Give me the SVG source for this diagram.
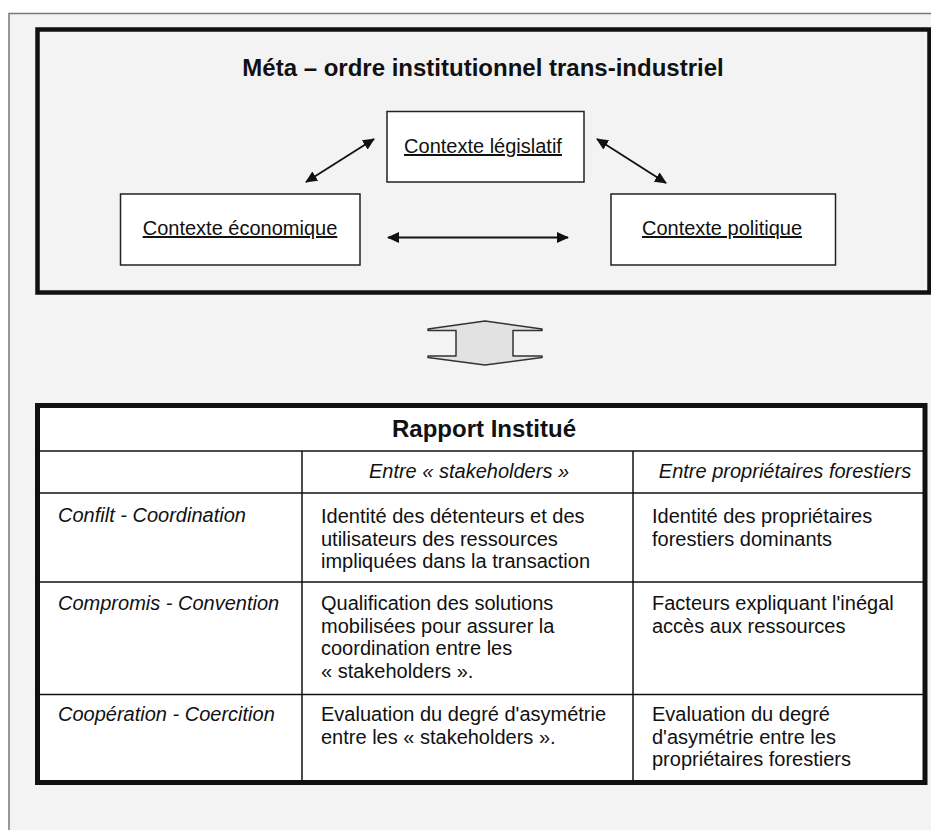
<svg xmlns="http://www.w3.org/2000/svg" width="931" height="830" viewBox="0 0 931 830">
<style>
text { font-family: "Liberation Sans", Arial, sans-serif; fill: #111; }
.t { font-size: 20px; }
.i { font-size: 20px; font-style: italic; }
.b { font-weight: bold; font-size: 24px; }
.u { text-decoration: underline; }
.box { fill: #fff; stroke: #222; stroke-width: 1.5; }
.grid { stroke: #111; stroke-width: 1.5; fill: none; }
.conn { stroke: #111; stroke-width: 1.8; fill: none; marker-start: url(#ah); marker-end: url(#ah); }
</style>
<defs>
<marker id="ah" viewBox="0 0 12 11" refX="11" refY="5.5" markerWidth="12" markerHeight="11" markerUnits="userSpaceOnUse" orient="auto-start-reverse">
<path d="M0,0 L12,5.5 L0,11 z" fill="#111"/>
</marker>
</defs>
<rect x="0" y="0" width="931" height="830" fill="#fff"/>
<rect id="frame" x="9" y="13.5" width="940" height="840" fill="#f3f3f3" stroke="#777" stroke-width="1.5"/>

<g id="meta">
<rect x="37.5" y="29.5" width="892" height="263" fill="#f3f3f3" stroke="#111" stroke-width="4.5"/>
<text class="b" x="483" y="76" text-anchor="middle">Méta – ordre institutionnel trans-industriel</text>
</g>
<g id="legislatif">
<rect class="box" x="387" y="111.5" width="197" height="70.5"/>
<text class="t u" x="483" y="153" text-anchor="middle">Contexte législatif</text>
</g>
<g id="economique">
<rect class="box" x="120.5" y="194" width="239.5" height="71"/>
<text class="t u" x="240" y="235" text-anchor="middle">Contexte économique</text>
</g>
<g id="politique">
<rect class="box" x="611" y="194" width="224.5" height="71"/>
<text class="t u" x="722" y="235" text-anchor="middle">Contexte politique</text>
</g>

<g id="connectors">
<line class="conn" x1="306" y1="182" x2="374" y2="139"/>
<line class="conn" x1="597" y1="139" x2="666" y2="183"/>
<line class="conn" x1="388" y1="237.5" x2="568" y2="237.5"/>
<polygon points="428,329 485,321 542,329 542,330.5 513,330.5 513,356 542,356 542,357.5 485,365 428,357.5 428,356 456,356 456,330.5 428,330.5" fill="#e2e2e2" stroke="#333" stroke-width="1.5" stroke-linejoin="round"/>
</g>

<g id="table">
<rect x="37.5" y="405.5" width="887.5" height="377" fill="#fff" stroke="#111" stroke-width="5"/>
<line class="grid" x1="37.5" y1="451" x2="925" y2="451"/>
<line class="grid" x1="37.5" y1="493" x2="925" y2="493"/>
<line class="grid" x1="37.5" y1="582" x2="925" y2="582"/>
<line class="grid" x1="37.5" y1="694.5" x2="925" y2="694.5"/>
<line class="grid" x1="302" y1="451" x2="302" y2="782"/>
<line class="grid" x1="633" y1="451" x2="633" y2="782"/>
<text class="b" x="484" y="437" text-anchor="middle">Rapport Institué</text>
<text class="i" x="469" y="478" text-anchor="middle">Entre « stakeholders »</text>
<text class="i" x="785" y="478" text-anchor="middle">Entre propriétaires forestiers</text>

<text class="i" x="58" y="522">Confilt - Coordination</text>
<text class="t" x="321" y="523">Identité des détenteurs et des</text>
<text class="t" x="321" y="545.5">utilisateurs des ressources</text>
<text class="t" x="321" y="568">impliquées dans la transaction</text>
<text class="t" x="652" y="523">Identité des propriétaires</text>
<text class="t" x="652" y="545.5">forestiers dominants</text>

<text class="i" x="58" y="610">Compromis - Convention</text>
<text class="t" x="321" y="610">Qualification des solutions</text>
<text class="t" x="321" y="632.5">mobilisées pour assurer la</text>
<text class="t" x="321" y="655">coordination entre les</text>
<text class="t" x="321" y="677.5">« stakeholders ».</text>
<text class="t" x="652" y="610">Facteurs expliquant l'inégal</text>
<text class="t" x="652" y="632.5">accès aux ressources</text>

<text class="i" x="58" y="721">Coopération - Coercition</text>
<text class="t" x="321" y="721">Evaluation du degré d'asymétrie</text>
<text class="t" x="321" y="743.5">entre les « stakeholders ».</text>
<text class="t" x="652" y="721">Evaluation du degré</text>
<text class="t" x="652" y="743.5">d'asymétrie entre les</text>
<text class="t" x="652" y="766">propriétaires forestiers</text>
</g>
</svg>
